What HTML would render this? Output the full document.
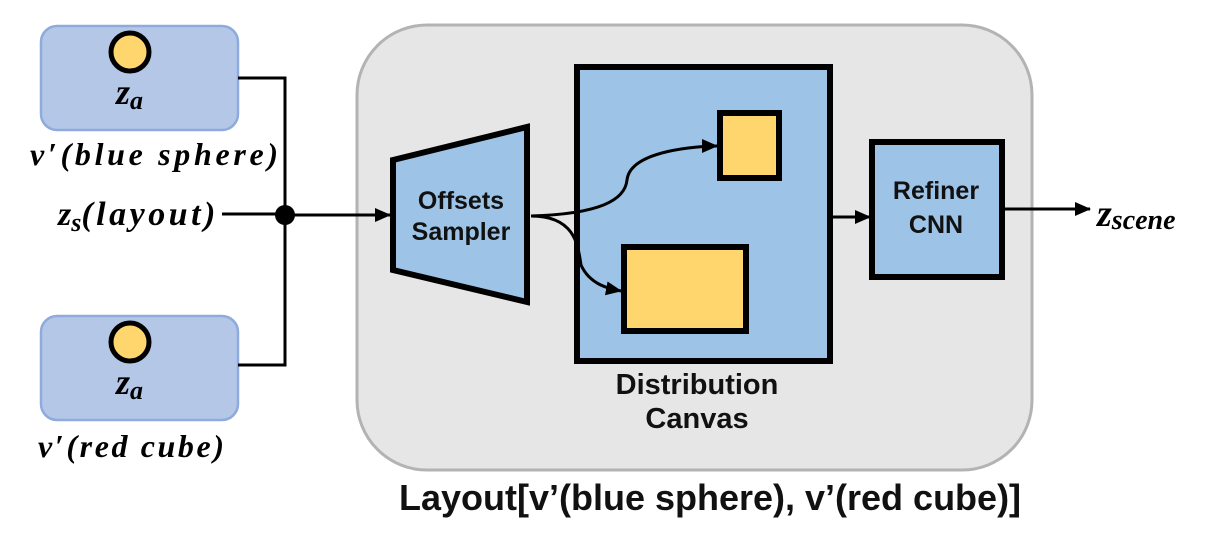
<!DOCTYPE html>
<html><head><style>body{margin:0;background:#fff}svg{display:block}</style></head><body>
<svg width="1212" height="536" viewBox="0 0 1212 536" xmlns="http://www.w3.org/2000/svg">
<defs>
<marker id="b" markerWidth="16" markerHeight="14" refX="15" refY="7" orient="auto" markerUnits="userSpaceOnUse"><path d="M0,0 L16,7 L0,14z"/></marker></defs>
<rect x="357" y="25" width="675" height="445" rx="70" fill="#e6e6e6" stroke="#b3b3b3" stroke-width="3"/>
<rect x="41" y="26" width="197" height="104" rx="16" fill="#b4c7e7" stroke="#8faadc" stroke-width="2.5"/>
<rect x="41" y="316" width="197" height="104" rx="16" fill="#b4c7e7" stroke="#8faadc" stroke-width="2.5"/>
<circle cx="130" cy="52" r="19" fill="#ffd56e" stroke="#000" stroke-width="5"/>
<circle cx="130" cy="342" r="19" fill="#ffd56e" stroke="#000" stroke-width="5"/>
<g font-family="Liberation Serif, serif" font-style="italic" font-weight="bold" fill="#000">
<text x="116" y="104" font-size="36">z<tspan font-size="26" dy="5">a</tspan></text>
<text x="116" y="394" font-size="36">z<tspan font-size="26" dy="5">a</tspan></text>
<text x="30" y="165" font-size="32" textLength="248" lengthAdjust="spacing">v′(blue sphere)</text>
<text x="38" y="457" font-size="32" textLength="186" lengthAdjust="spacing">v′(red cube)</text>
<text x="58" y="225" font-size="34">z<tspan font-size="26" dy="6">s</tspan><tspan dy="-6" textLength="134" lengthAdjust="spacing">(layout)</tspan></text>
<text x="1097" y="226" font-size="38">z<tspan font-size="28" dy="3">scene</tspan></text>
</g>
<g stroke="#000" stroke-width="3" fill="none">
<path d="M238,78 H285 V365 H238"/>
<path d="M222,214 H285"/>
<path d="M285,215 H390" marker-end="url(#b)"/>
<path d="M832,217 H870" marker-end="url(#b)"/>
<path d="M1004,209 H1090" marker-end="url(#b)"/>
</g>
<circle cx="285" cy="215" r="10" fill="#000"/>
<polygon points="393,160 527,127 527,302 393,270" fill="#9dc3e6" stroke="#000" stroke-width="6"/>
<rect x="577" y="67" width="253" height="294" fill="#9dc3e6" stroke="#000" stroke-width="6"/>
<rect x="720" y="113" width="59" height="65" fill="#ffd56e" stroke="#000" stroke-width="6"/>
<rect x="624" y="247" width="122" height="84" fill="#ffd56e" stroke="#000" stroke-width="6"/>
<rect x="872" y="142" width="130" height="135" fill="#9dc3e6" stroke="#000" stroke-width="6"/>
<g stroke="#000" stroke-width="3" fill="none">
<path d="M531,216 C600,214 625,200 627,180 C630,150 700,146 717,146" marker-end="url(#b)"/>
<path d="M531,216 C575,216 578,245 581,265 C590,285 610,289 621,291" marker-end="url(#b)"/>
</g>
<g font-family="Liberation Sans, sans-serif" font-weight="bold" fill="#111" text-anchor="middle">
<text x="461" y="209" font-size="25">Offsets</text>
<text x="461" y="240" font-size="25">Sampler</text>
<text x="936" y="199" font-size="25">Refiner</text>
<text x="936" y="233" font-size="25">CNN</text>
<text x="697" y="394" font-size="29">Distribution</text>
<text x="697" y="428" font-size="29">Canvas</text>
<text x="710" y="510" font-size="36">Layout[v’(blue sphere), v’(red cube)]</text>
</g>
</svg>
</body></html>
